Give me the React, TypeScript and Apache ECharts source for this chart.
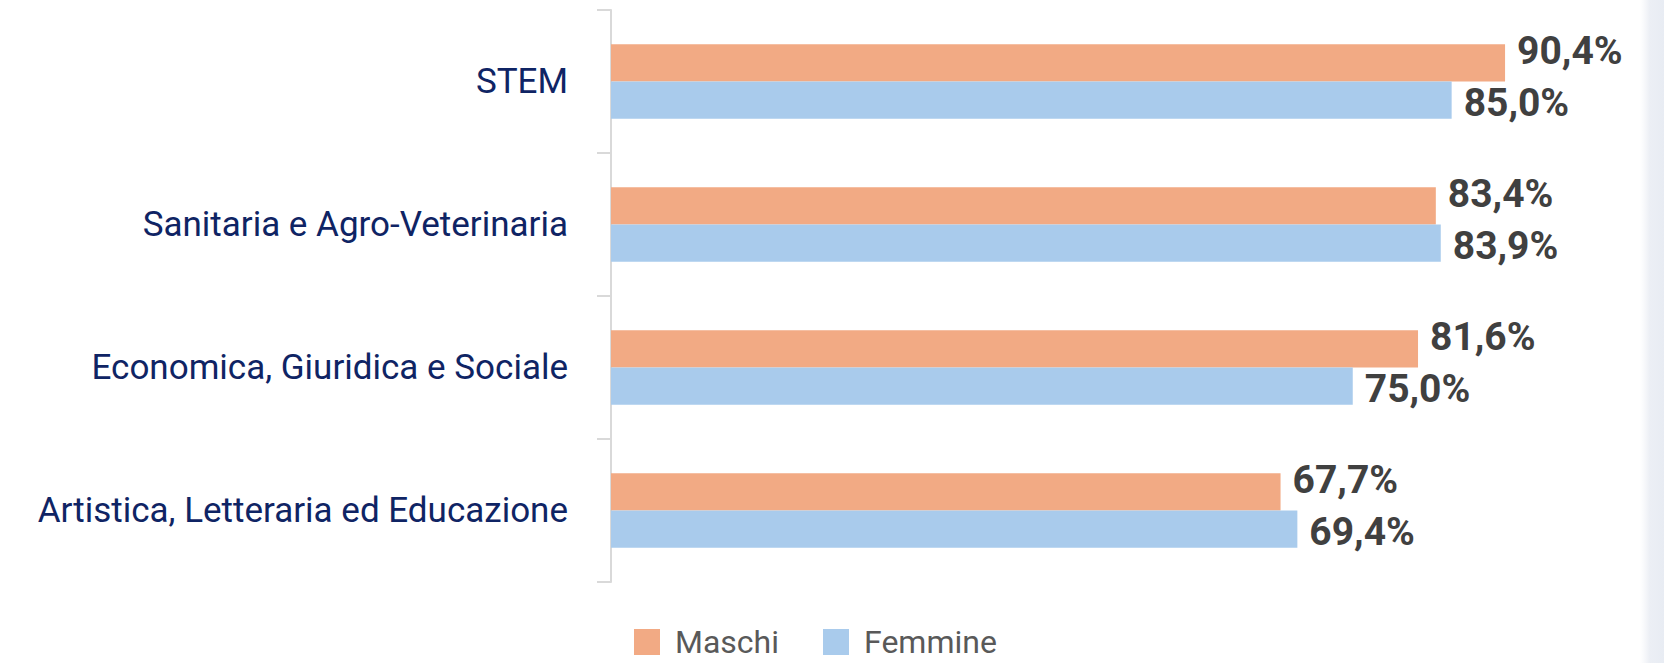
import React, { useEffect, useRef } from "react";
import * as echarts from "echarts";

const categories = [
  "STEM",
  "Sanitaria e Agro-Veterinaria",
  "Economica, Giuridica e Sociale",
  "Artistica, Letteraria ed Educazione",
];
const maschi = [90.4, 83.4, 81.6, 67.7];
const femmine = [85.0, 83.9, 75.0, 69.4];
const seriesNames = ["Maschi", "Femmine"];

const fmt = (v: number) => v.toFixed(1).replace(".", ",") + "%";

export default function App() {
  const ref = useRef<HTMLDivElement>(null);
  useEffect(() => {
    if (!ref.current) return;
    const chart = echarts.init(ref.current, null, { renderer: "svg" });
    const labelStyle = {
      show: true,
      position: "right" as const,
      distance: 12,
      fontFamily: "Roboto",
      fontWeight: "bold" as const,
      fontSize: 39,
      color: "#404040",
      formatter: (p: any) => fmt(p.value),
    };
    chart.setOption({
      animation: false,
      backgroundColor: "#ffffff",
      grid: { left: 611, right: 64, top: 10, bottom: 81, containLabel: false },
      xAxis: {
        type: "value",
        min: 0,
        max: 100,
        show: false,
      },
      yAxis: {
        type: "category",
        data: categories,
        inverse: true,
        axisLine: { show: true, lineStyle: { color: "#d9d9d9", width: 2 } },
        axisTick: { show: true, length: 14, lineStyle: { color: "#d9d9d9", width: 2 } },
        axisLabel: {
          margin: 43,
          fontFamily: "Roboto",
          fontSize: 35,
          color: "#0f2464",
        },
      },
      legend: {
        left: 634,
        top: 626,
        padding: 0,
        itemWidth: 26,
        itemHeight: 26,
        itemGap: 44,
        icon: "rect",
        textStyle: {
          fontFamily: "Roboto",
          fontSize: 32,
          color: "#595959",
          padding: [0, 0, 0, 10],
        },
        data: seriesNames,
      },
      graphic: [
        {
          type: "rect",
          shape: { x: 1640, y: 0, width: 24, height: 663 },
          style: {
            fill: new echarts.graphic.LinearGradient(0, 0, 1, 0, [
              { offset: 0, color: "rgba(240,242,247,0)" },
              { offset: 0.4, color: "rgba(236,239,245,1)" },
              { offset: 1, color: "rgba(232,236,243,1)" },
            ]),
          },
          silent: true,
        },
      ],
      series: [
        {
          name: seriesNames[0],
          type: "bar",
          data: maschi,
          barGap: "0%",
          barCategoryGap: "48%",
          itemStyle: { color: "#f2aa84" },
          label: { ...labelStyle, offset: [0, -12] },
        },
        {
          name: seriesNames[1],
          type: "bar",
          data: femmine,
          barGap: "0%",
          barCategoryGap: "48%",
          itemStyle: { color: "#a9cbec" },
          label: { ...labelStyle, offset: [0, 3] },
        },
      ],
    });
    return () => chart.dispose();
  }, []);
  return (
    <div
      ref={ref}
      style={{ position: "absolute", left: 0, top: 0, width: 1664, height: 663 }}
    />
  );
}
